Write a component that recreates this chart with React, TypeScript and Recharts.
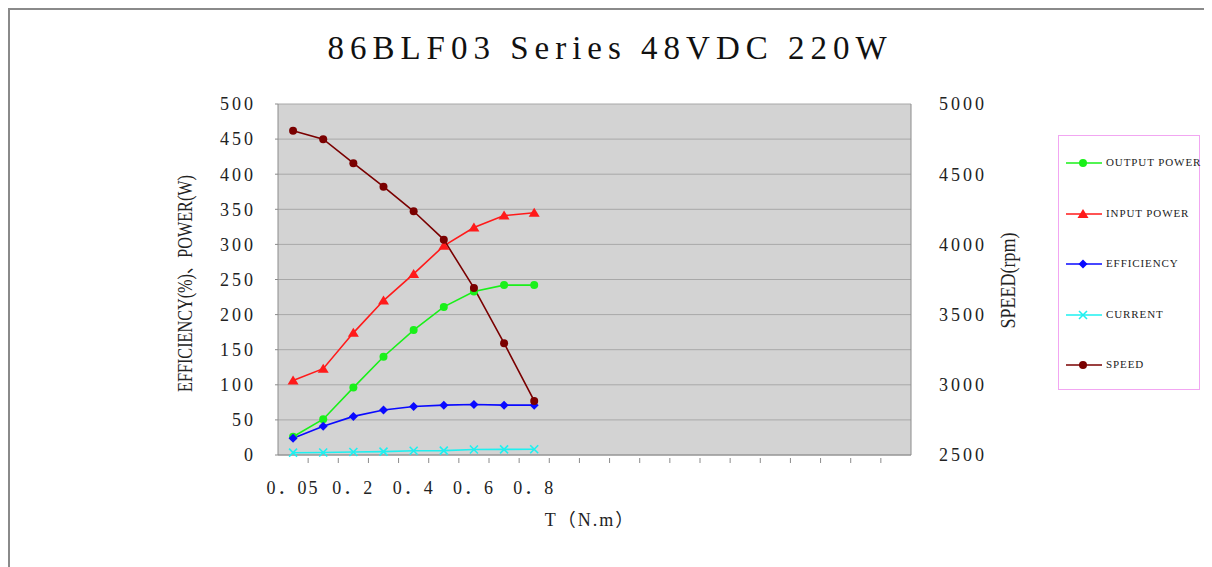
import { CartesianGrid, Line, LineChart, XAxis, YAxis } from "recharts";

// torque points measured, the axis keeps empty slots to the right
const torque = ["0.05", "0.1", "0.2", "0.3", "0.4", "0.5", "0.6", "0.7", "0.8"];
const slotCount = 21;

const outputPower = [26, 51, 96, 140, 178, 211, 233, 242, 242];
const inputPower = [106, 123, 174, 220, 258, 298, 324, 341, 345];
const efficiency = [24, 41, 55, 64, 69, 71, 72, 71, 71];
const current = [3.3, 3.5, 4.2, 4.8, 6.0, 6.2, 7.8, 8.0, 8.2];
const speed = [4810, 4749, 4578, 4411, 4236, 4034, 3690, 3296, 2885];

const leftTicks = [0, 50, 100, 150, 200, 250, 300, 350, 400, 450, 500];
const rightTicks = [2500, 3000, 3500, 4000, 4500, 5000];

const series = [
  { key: "output", name: "OUTPUT POWER", color: "#19f019", shape: "circle" },
  { key: "input", name: "INPUT POWER", color: "#ff1a1a", shape: "triangle" },
  { key: "eff", name: "EFFICIENCY", color: "#0a0aff", shape: "diamond" },
  { key: "current", name: "CURRENT", color: "#1ef0f0", shape: "cross" },
  { key: "speed", name: "SPEED", color: "#7a0000", shape: "circle" },
];

const data = Array.from({ length: slotCount }, (_, i) => ({
  idx: i,
  label: torque[i] ?? "",
  output: outputPower[i],
  input: inputPower[i],
  eff: efficiency[i],
  current: current[i],
  speed: speed[i],
}));

const W = 1204;
const H = 559;
const margin = { top: 96, right: 221, bottom: 52, left: 210 };
const plotW = W - margin.left - margin.right - 60 - 80;
const band = plotW / slotCount;
const tickFont = "'Liberation Serif', 'Noto Sans CJK SC', serif";

function Marker({ shape, x, y, color }: { shape: string; x: number; y: number; color: string }) {
  if (shape === "triangle") {
    return <polygon points={`${x},${y - 5} ${x + 5.5},${y + 4} ${x - 5.5},${y + 4}`} fill={color} />;
  }
  if (shape === "diamond") {
    return <polygon points={`${x},${y - 4.5} ${x + 4.5},${y} ${x},${y + 4.5} ${x - 4.5},${y}`} fill={color} />;
  }
  if (shape === "cross") {
    return (
      <path d={`M${x - 4},${y - 4}L${x + 4},${y + 4}M${x - 4},${y + 4}L${x + 4},${y - 4}`} stroke={color} strokeWidth={1.6} />
    );
  }
  return <circle cx={x} cy={y} r={4} fill={color} />;
}

const makeDot = (shape: string, color: string) => (props: any) => {
  const { cx, cy, index } = props;
  if (cx == null || cy == null || Number.isNaN(cy)) return <g key={`d-${index}`} />;
  return (
    <g key={`d-${index}`}>
      <Marker shape={shape} x={cx} y={cy} color={color} />
    </g>
  );
};

function XTick(props: any) {
  const { x, y, payload } = props;
  const i = payload.value as number;
  const label = data[i]?.label ?? "";
  const bx = x - band / 2;
  return (
    <g>
      {i > 0 && <line x1={bx} x2={bx} y1={y} y2={y - 5} stroke="#8c8c8c" />}
      {label && i % 2 === 0 && (
        <text x={x} y={y + 31} textAnchor="middle" fontSize={18} fontFamily={tickFont} fill="#222" letterSpacing={2}>
          {label.replace(".", "．")}
        </text>
      )}
    </g>
  );
}

function LegendBox() {
  return (
    <div
      style={{
        position: "absolute",
        left: 1050,
        top: 127,
        width: 142,
        height: 255,
        border: "1px solid #f2a6f2",
        boxSizing: "border-box",
        background: "#fff",
      }}
    >
      {series.map((s, i) => (
        <div key={s.key} style={{ position: "absolute", left: 0, top: 27 + i * 50.6 - 10, height: 20, width: 142 }}>
          <svg width={46} height={20} style={{ position: "absolute", left: 0, top: 0 }}>
            <line x1={7} x2={43} y1={10} y2={10} stroke={s.color} strokeWidth={1.6} />
            <Marker shape={s.shape} x={24} y={10} color={s.color} />
          </svg>
          <span
            style={{
              position: "absolute",
              left: 47,
              top: 3,
              fontFamily: "'Liberation Serif', serif",
              fontSize: 11,
              letterSpacing: 0.9,
              color: "#222",
              whiteSpace: "nowrap",
            }}
          >
            {s.name}
          </span>
        </div>
      ))}
    </div>
  );
}

export default function App() {
  return (
    <div style={{ position: "relative", width: W, height: H, fontFamily: tickFont }}>
      <div style={{ position: "absolute", left: 0, top: 0 }}>
        <LineChart width={W} height={H} data={data} margin={margin}>
          <CartesianGrid yAxisId="left" vertical={false} fill="#d3d3d3" stroke="#a8a8a8" fillOpacity={1} />
          <XAxis
            dataKey="idx"
            type="category"
            scale="band"
            interval={0}
            height={60}
            tickLine={false}
            axisLine={{ stroke: "#8c8c8c" }}
            tick={<XTick />}
            label={{
              content: () => (
                <text x={582} y={518} textAnchor="middle" fontSize={18} fontFamily={tickFont} fill="#222" letterSpacing={2}>
                  T（N.m）
                </text>
              ),
            }}
          />
          <YAxis
            yAxisId="left"
            width={60}
            domain={[0, 500]}
            ticks={leftTicks}
            interval={0}
            tickSize={3}
            tickMargin={19}
            tickLine={{ stroke: "#8c8c8c" }}
            axisLine={{ stroke: "#8c8c8c" }}
            tick={{ fontSize: 18, fill: "#222", letterSpacing: 3, fontFamily: tickFont }}
            label={{
              content: (p: any) => {
                const vb = p.viewBox;
                const cx = vb.x - 33;
                const cy = vb.y + vb.height / 2 + 4;
                return (
                  <text
                    x={cx}
                    y={cy}
                    transform={`rotate(-90 ${cx} ${cy})`}
                    textAnchor="middle"
                    dominantBaseline="central"
                    fontSize={20}
                    fontFamily="'Liberation Serif', 'Noto Sans CJK SC', serif"
                    textLength={217}
                    lengthAdjust="spacingAndGlyphs"
                    fill="#222"
                  >
                    EFFICIENCY(%)、POWER(W)
                  </text>
                );
              },
            }}
          />
          <YAxis
            yAxisId="right"
            orientation="right"
            width={80}
            domain={[2500, 5000]}
            ticks={rightTicks}
            interval={0}
            tickLine={false}
            tickMargin={22}
            axisLine={{ stroke: "#8c8c8c" }}
            tick={{ fontSize: 18, fill: "#222", letterSpacing: 3, fontFamily: tickFont, textAnchor: "start" }}
            label={{
              content: (p: any) => {
                const vb = p.viewBox;
                const cx = vb.x + 97;
                const cy = vb.y + vb.height / 2 + 1;
                return (
                  <text
                    x={cx}
                    y={cy}
                    transform={`rotate(-90 ${cx} ${cy})`}
                    textAnchor="middle"
                    dominantBaseline="central"
                    fontSize={20}
                    fontFamily="'Liberation Serif', serif"
                    textLength={96}
                    lengthAdjust="spacingAndGlyphs"
                    fill="#222"
                  >
                    SPEED(rpm)
                  </text>
                );
              },
            }}
          />
          {series.map((s) => (
            <Line
              key={s.key}
              yAxisId={s.key === "speed" ? "right" : "left"}
              dataKey={s.key}
              name={s.name}
              stroke={s.color}
              strokeWidth={1.6}
              dot={makeDot(s.shape, s.color)}
              activeDot={false}
              isAnimationActive={false}
            />
          ))}
        </LineChart>
      </div>
      <div
        style={{
          position: "absolute",
          left: 0,
          top: 22,
          width: W,
          textAlign: "center",
          fontFamily: "'Liberation Serif', serif",
          fontSize: 33,
          color: "#111",
          letterSpacing: 6,
        }}
      >
        86BLF03 Series 48VDC 220W
      </div>
      <LegendBox />
      {/* page frame: top rule and left rule */}
      <div style={{ position: "absolute", left: 0, top: 0, width: W + 4, height: 2, background: "#8a8a8a", zIndex: 5 }} />
      <div style={{ position: "absolute", left: 0, top: 0, width: 2, height: H, background: "#8a8a8a", zIndex: 5 }} />
    </div>
  );
}
